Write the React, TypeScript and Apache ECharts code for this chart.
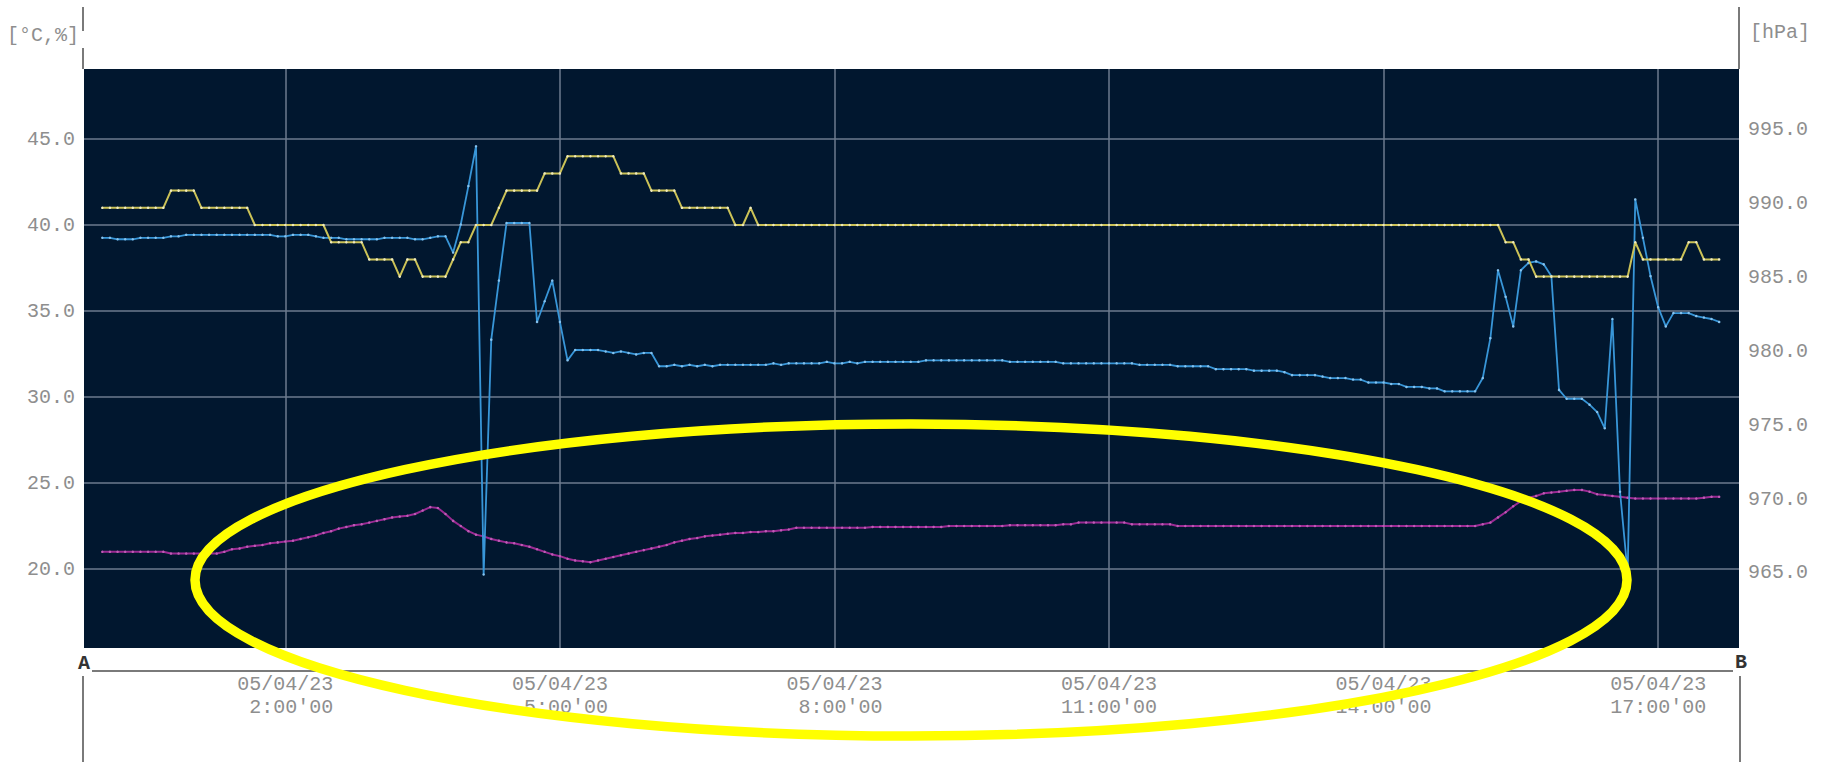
import React, { useEffect, useRef } from "react";
import * as echarts from "echarts";

// sampling step of the logger, minutes since 00:00 of 05/04/23
const STEP_MIN = 5;
const DATE_LABEL = "05/04/23";
const X_TICKS = [120, 300, 480, 660, 840, 1020];
const LEFT_TICKS = [20, 25, 30, 35, 40, 45];
const RIGHT_TICKS = [965, 970, 975, 980, 985, 990, 995];

// humidity [%] (yellow)
const humidity = [
  41, 41, 41, 41, 41, 41, 41, 41, 41, 42,
  42, 42, 42, 41, 41, 41, 41, 41, 41, 41,
  40, 40, 40, 40, 40, 40, 40, 40, 40, 40,
  39, 39, 39, 39, 39, 38, 38, 38, 38, 37,
  38, 38, 37, 37, 37, 37, 38, 39, 39, 40,
  40, 40, 41, 42, 42, 42, 42, 42, 43, 43,
  43, 44, 44, 44, 44, 44, 44, 44, 43, 43,
  43, 43, 42, 42, 42, 42, 41, 41, 41, 41,
  41, 41, 41, 40, 40, 41, 40, 40, 40, 40,
  40, 40, 40, 40, 40, 40, 40, 40, 40, 40,
  40, 40, 40, 40, 40, 40, 40, 40, 40, 40,
  40, 40, 40, 40, 40, 40, 40, 40, 40, 40,
  40, 40, 40, 40, 40, 40, 40, 40, 40, 40,
  40, 40, 40, 40, 40, 40, 40, 40, 40, 40,
  40, 40, 40, 40, 40, 40, 40, 40, 40, 40,
  40, 40, 40, 40, 40, 40, 40, 40, 40, 40,
  40, 40, 40, 40, 40, 40, 40, 40, 40, 40,
  40, 40, 40, 40, 40, 40, 40, 40, 40, 40,
  40, 40, 40, 40, 39, 39, 38, 38, 37, 37,
  37, 37, 37, 37, 37, 37, 37, 37, 37, 37,
  37, 39, 38, 38, 38, 38, 38, 38, 39, 39,
  38, 38, 38,
];

// temperature [°C] (magenta)
const temperature = [
  21.0, 21.0, 21.0, 21.0, 21.0, 21.0, 21.0, 21.0, 21.0, 20.9,
  20.9, 20.9, 20.9, 20.9, 20.9, 20.9, 21.0, 21.15, 21.2, 21.3,
  21.35, 21.4, 21.5, 21.55, 21.6, 21.65, 21.75, 21.85, 21.95, 22.1,
  22.2, 22.35, 22.45, 22.55, 22.6, 22.7, 22.8, 22.9, 23.0, 23.05,
  23.1, 23.2, 23.4, 23.6, 23.55, 23.2, 22.8, 22.5, 22.2, 22.0,
  21.9, 21.75, 21.65, 21.55, 21.5, 21.4, 21.3, 21.15, 21.0, 20.85,
  20.75, 20.6, 20.5, 20.45, 20.4, 20.5, 20.6, 20.7, 20.8, 20.9,
  21.0, 21.1, 21.2, 21.3, 21.4, 21.55, 21.65, 21.75, 21.8, 21.9,
  21.95, 22.0, 22.05, 22.1, 22.1, 22.15, 22.15, 22.2, 22.2, 22.25,
  22.3, 22.4, 22.4, 22.4, 22.4, 22.4, 22.4, 22.4, 22.4, 22.4,
  22.4, 22.45, 22.45, 22.45, 22.45, 22.45, 22.45, 22.45, 22.45, 22.45,
  22.45, 22.5, 22.5, 22.5, 22.5, 22.5, 22.5, 22.5, 22.5, 22.55,
  22.55, 22.55, 22.55, 22.55, 22.55, 22.55, 22.6, 22.6, 22.7, 22.7,
  22.7, 22.7, 22.7, 22.7, 22.7, 22.6, 22.6, 22.6, 22.6, 22.6,
  22.6, 22.5, 22.5, 22.5, 22.5, 22.5, 22.5, 22.5, 22.5, 22.5,
  22.5, 22.5, 22.5, 22.5, 22.5, 22.5, 22.5, 22.5, 22.5, 22.5,
  22.5, 22.5, 22.5, 22.5, 22.5, 22.5, 22.5, 22.5, 22.5, 22.5,
  22.5, 22.5, 22.5, 22.5, 22.5, 22.5, 22.5, 22.5, 22.5, 22.5,
  22.5, 22.6, 22.7, 23.0, 23.3, 23.65, 23.95, 24.15, 24.25, 24.4,
  24.45, 24.5, 24.55, 24.6, 24.6, 24.5, 24.35, 24.3, 24.25, 24.2,
  24.15, 24.1, 24.1, 24.1, 24.1, 24.1, 24.1, 24.1, 24.1, 24.1,
  24.15, 24.2, 24.2,
];

// pressure [hPa] (blue, right axis)
const pressure = [
  987.7, 987.7, 987.6, 987.6, 987.6, 987.7, 987.7, 987.7, 987.7, 987.8,
  987.8, 987.9, 987.9, 987.9, 987.9, 987.9, 987.9, 987.9, 987.9, 987.9,
  987.9, 987.9, 987.9, 987.8, 987.8, 987.9, 987.9, 987.9, 987.8, 987.7,
  987.7, 987.7, 987.6, 987.6, 987.6, 987.6, 987.6, 987.7, 987.7, 987.7,
  987.7, 987.6, 987.6, 987.7, 987.8, 987.8, 986.7, 988.6, 991.2, 993.9,
  964.9, 980.8, 984.8, 988.7, 988.7, 988.7, 988.7, 982.0, 983.4, 984.8,
  982.0, 979.4, 980.1, 980.1, 980.1, 980.1, 980.0, 979.9, 980.0, 979.9,
  979.8, 979.9, 979.9, 979.0, 979.0, 979.1, 979.0, 979.1, 979.0, 979.1,
  979.0, 979.1, 979.1, 979.1, 979.1, 979.1, 979.1, 979.1, 979.2, 979.1,
  979.2, 979.2, 979.2, 979.2, 979.2, 979.3, 979.2, 979.2, 979.3, 979.2,
  979.3, 979.3, 979.3, 979.3, 979.3, 979.3, 979.3, 979.3, 979.4, 979.4,
  979.4, 979.4, 979.4, 979.4, 979.4, 979.4, 979.4, 979.4, 979.4, 979.3,
  979.3, 979.3, 979.3, 979.3, 979.3, 979.3, 979.2, 979.2, 979.2, 979.2,
  979.2, 979.2, 979.2, 979.2, 979.2, 979.2, 979.1, 979.1, 979.1, 979.1,
  979.1, 979.0, 979.0, 979.0, 979.0, 979.0, 978.8, 978.8, 978.8, 978.8,
  978.8, 978.7, 978.7, 978.7, 978.7, 978.6, 978.4, 978.4, 978.4, 978.4,
  978.3, 978.2, 978.2, 978.2, 978.1, 978.1, 977.9, 977.9, 977.9, 977.8,
  977.8, 977.6, 977.6, 977.6, 977.5, 977.5, 977.3, 977.3, 977.3, 977.3,
  977.3, 978.2, 980.9, 985.5, 983.7, 981.7, 985.5, 986.0, 986.1, 985.9,
  985.1, 977.4, 976.8, 976.8, 976.8, 976.4, 975.9, 974.8, 982.2, 970.5,
  965.0, 990.3, 987.7, 985.1, 983.0, 981.7, 982.6, 982.6, 982.6, 982.4,
  982.3, 982.2, 982.0,
];

const LABEL_COLOR = "#8e8e8e";
const MONO = '"Liberation Mono", "DejaVu Sans Mono", monospace';

function toPairs(values: number[]) {
  return values.map((v, i) => [i * STEP_MIN, v]);
}

function timeLabel(v: number) {
  const h = Math.round(v / 60);
  const t = `${h}:00'00`;
  return DATE_LABEL + "\n" + t.padStart(8, " ");
}

export default function App() {
  const ref = useRef<HTMLDivElement>(null);

  useEffect(() => {
    if (!ref.current) return;
    const chart = echarts.init(ref.current, undefined, { renderer: "svg" });

    const lineColor = "#7a7a7a";
    const option: any = {
      animation: false,
      backgroundColor: "#ffffff",
      grid: {
        left: 84,
        top: 69,
        width: 1655,
        height: 579,
        show: true,
        backgroundColor: "#01172f",
        borderWidth: 0,
        containLabel: false,
      },
      xAxis: {
        type: "value",
        min: -12,
        max: 1073,
        axisLine: { show: false },
        axisTick: { show: false, customValues: X_TICKS },
        splitLine: {
          show: true,
          lineStyle: { color: "#6c7b8f", width: 1.5 },
        },
        axisLabel: {
          customValues: X_TICKS,
          formatter: timeLabel,
          color: LABEL_COLOR,
          fontFamily: MONO,
          fontSize: 20,
          lineHeight: 23,
          margin: 25,
          align: "center",
        },
      },
      yAxis: [
        {
          type: "value",
          position: "left",
          min: 15.41,
          max: 49.07,
          axisLine: { show: false },
          axisTick: { show: false, customValues: LEFT_TICKS },
          splitLine: {
            show: true,
            lineStyle: { color: "#6c7b8f", width: 1.5 },
          },
          axisLabel: {
            customValues: LEFT_TICKS,
            formatter: (v: number) => v.toFixed(1),
            color: LABEL_COLOR,
            fontFamily: MONO,
            fontSize: 20,
            margin: 9,
          },
        },
        {
          type: "value",
          position: "right",
          min: 959.92,
          max: 999.13,
          axisLine: { show: false },
          axisTick: { show: false, customValues: RIGHT_TICKS },
          splitLine: { show: false },
          axisLabel: {
            customValues: RIGHT_TICKS,
            formatter: (v: number) => v.toFixed(1),
            color: LABEL_COLOR,
            fontFamily: MONO,
            fontSize: 20,
            margin: 9,
          },
        },
      ],
      series: [
        {
          name: "Temperature",
          type: "line",
          yAxisIndex: 0,
          data: toPairs(temperature),
          symbol: "circle",
          symbolSize: 2.5,
          lineStyle: { color: "#9a2a93", width: 2 },
          itemStyle: { color: "#bf5cb6" },
          z: 2,
        },
        {
          name: "Pressure",
          type: "line",
          yAxisIndex: 1,
          data: toPairs(pressure),
          symbol: "circle",
          symbolSize: 2.5,
          lineStyle: { color: "#3896d8", width: 1.8 },
          itemStyle: { color: "#86c2ee" },
          z: 3,
        },
        {
          name: "Humidity",
          type: "line",
          yAxisIndex: 0,
          data: toPairs(humidity),
          symbol: "circle",
          symbolSize: 2.5,
          lineStyle: { color: "#cbc257", width: 2 },
          itemStyle: { color: "#efeac0" },
          z: 4,
        },
      ],
      graphic: [
        { type: "line", shape: { x1: 83, y1: 7, x2: 83, y2: 31 }, style: { stroke: lineColor, lineWidth: 2 } },
        { type: "line", shape: { x1: 83, y1: 48, x2: 83, y2: 69 }, style: { stroke: lineColor, lineWidth: 2 } },
        { type: "line", shape: { x1: 1739, y1: 7, x2: 1739, y2: 69 }, style: { stroke: lineColor, lineWidth: 2 } },
        { type: "line", shape: { x1: 92, y1: 671, x2: 1733, y2: 671 }, style: { stroke: lineColor, lineWidth: 2 } },
        { type: "line", shape: { x1: 83, y1: 676, x2: 83, y2: 762 }, style: { stroke: lineColor, lineWidth: 2 } },
        { type: "line", shape: { x1: 1740, y1: 676, x2: 1740, y2: 762 }, style: { stroke: lineColor, lineWidth: 2 } },
        {
          type: "text",
          x: 7,
          y: 35,
          style: { text: "[°C,%]", fill: LABEL_COLOR, fontFamily: MONO, fontSize: 20, align: "left", verticalAlign: "middle" },
        },
        {
          type: "text",
          x: 1750,
          y: 32,
          style: { text: "[hPa]", fill: LABEL_COLOR, fontFamily: MONO, fontSize: 20, align: "left", verticalAlign: "middle" },
        },
        {
          type: "text",
          x: 84,
          y: 663,
          style: { text: "A", fill: "#333333", fontFamily: MONO, fontSize: 20, fontWeight: "bold", align: "center", verticalAlign: "middle" },
        },
        {
          type: "text",
          x: 1741,
          y: 662,
          style: { text: "B", fill: "#333333", fontFamily: MONO, fontSize: 20, fontWeight: "bold", align: "center", verticalAlign: "middle" },
        },
        {
          type: "ellipse",
          shape: { cx: 911, cy: 580, rx: 716, ry: 156 },
          style: { fill: "none", stroke: "#ffff00", lineWidth: 9.5 },
          z: 100,
        },
      ],
    };

    chart.setOption(option);
    return () => chart.dispose();
  }, []);

  return (
    <div
      ref={ref}
      style={{ position: "fixed", left: 0, top: 0, width: 1826, height: 762, background: "#ffffff" }}
    />
  );
}
